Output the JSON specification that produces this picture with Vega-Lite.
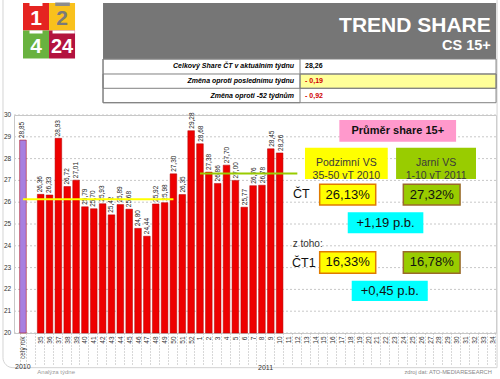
{
"$schema":"https://vega.github.io/schema/vega-lite/v6.json",
"width":482,"height":218,
"autosize":"none",
"padding":{"left":14,"top":115,"right":4,"bottom":46},
"background":"#ffffff",
"datasets":{
"tydny":[
{"tyden":"celý rok","share":28.85,"typ":"celý rok"},
{"tyden":"35","share":26.36,"typ":"týden"},
{"tyden":"36","share":26.33,"typ":"týden"},
{"tyden":"37","share":28.93,"typ":"týden"},
{"tyden":"38","share":26.72,"typ":"týden"},
{"tyden":"39","share":27.01,"typ":"týden"},
{"tyden":"40","share":25.79,"typ":"týden"},
{"tyden":"41","share":25.70,"typ":"týden"},
{"tyden":"42","share":25.93,"typ":"týden"},
{"tyden":"43","share":25.42,"typ":"týden"},
{"tyden":"44","share":25.89,"typ":"týden"},
{"tyden":"45","share":25.68,"typ":"týden"},
{"tyden":"46","share":24.80,"typ":"týden"},
{"tyden":"47","share":24.44,"typ":"týden"},
{"tyden":"48","share":25.92,"typ":"týden"},
{"tyden":"49","share":25.98,"typ":"týden"},
{"tyden":"50","share":27.30,"typ":"týden"},
{"tyden":"51","share":26.35,"typ":"týden"},
{"tyden":"52","share":29.28,"typ":"týden"},
{"tyden":"1","share":28.68,"typ":"týden"},
{"tyden":"2","share":27.38,"typ":"týden"},
{"tyden":"3","share":26.86,"typ":"týden"},
{"tyden":"4","share":27.70,"typ":"týden"},
{"tyden":"5","share":27.00,"typ":"týden"},
{"tyden":"6","share":25.77,"typ":"týden"},
{"tyden":"7","share":26.76,"typ":"týden"},
{"tyden":"8","share":26.78,"typ":"týden"},
{"tyden":"9","share":28.45,"typ":"týden"},
{"tyden":"10","share":28.26,"typ":"týden"}
],
"prumery":[
{"obdobi":"podzim","od":"celý rok","do":"50","prumer":26.13},
{"obdobi":"jaro","od":"1","do":"12","prumer":27.32}
],
"osa":[{"hodnota":20},{"hodnota":21},{"hodnota":22},{"hodnota":23},{"hodnota":24},{"hodnota":25},{"hodnota":26},{"hodnota":27},{"hodnota":28},{"hodnota":29},{"hodnota":30}],
"jeden":[{}]
},
"layer":[
 {"data":{"name":"jeden"},"mark":{"type":"rect","fill":"transparent","stroke":"#d4d4d4","strokeWidth":1,"cornerRadiusBottomLeft":10},
  "encoding":{"x":{"datum":-2.26,"type":"quantitative","scale":{"domain":[-1.017,53.44],"nice":false,"zero":false},"axis":null},"x2":{"datum":53.56},
   "y":{"datum":35.4,"type":"quantitative","scale":{"domain":[20,30],"nice":false,"zero":false},"axis":null},"y2":{"datum":18.41}}},
 {"data":{"name":"osa"},"mark":{"type":"rule","color":"#c8c8c8","strokeDash":[2,2],"strokeWidth":1},
  "encoding":{"y":{"field":"hodnota","type":"quantitative","scale":{"domain":[20,30],"nice":false,"zero":false},"axis":null}}},
 {"data":{"name":"osa"},"mark":{"type":"text","align":"right","baseline":"middle","fontSize":6.5,"color":"#333333"},
  "encoding":{"x":{"datum":-1.33,"type":"quantitative","scale":{"domain":[-1.017,53.44],"nice":false,"zero":false},"axis":null},
   "y":{"field":"hodnota","type":"quantitative","scale":{"domain":[20,30],"nice":false,"zero":false},"axis":null},
   "text":{"field":"hodnota","type":"quantitative","format":"d"}}},
 {"data":{"name":"tydny"},"mark":{"type":"bar","stroke":"#b00000","strokeWidth":0.5},
  "encoding":{
   "x":{"field":"tyden","type":"ordinal","sort":null,
     "scale":{"domain":["celý rok"," ","35","36","37","38","39","40","41","42","43","44","45","46","47","48","49","50","51","52","1","2","3","4","5","6","7","8","9","10","11","12","13","14","15","16","17","18","19","20","21","22","23","24","25","26","27","28","29","30","31","32","33","34"],"paddingInner":0.25,"paddingOuter":0.355,"align":0.9},
     "axis":{"title":null,"labelAngle":270,"labelFontSize":6.5,"labelColor":"#333333","labelOverlap":false,"ticks":true,"tickBand":"extent","tickSize":31,"tickDash":[1,2],"tickColor":"#b0b0b0","labelPadding":-28,"domain":false,"grid":false}},
   "y":{"field":"share","type":"quantitative","scale":{"domain":[20,30],"nice":false,"zero":false},"axis":null},
   "y2":{"datum":20},
   "color":{"field":"typ","type":"nominal","scale":{"domain":["celý rok","týden"],"range":["#a77fe0","#ee0000"]},"legend":null}
  }},
 {"data":{"name":"tydny"},"mark":{"type":"text","angle":270,"align":"left","baseline":"middle","dx":2,"fontSize":6.5,"color":"#222222"},
  "encoding":{
   "x":{"field":"tyden","type":"ordinal","sort":null,
     "scale":{"domain":["celý rok"," ","35","36","37","38","39","40","41","42","43","44","45","46","47","48","49","50","51","52","1","2","3","4","5","6","7","8","9","10","11","12","13","14","15","16","17","18","19","20","21","22","23","24","25","26","27","28","29","30","31","32","33","34"],"paddingInner":0.25,"paddingOuter":0.355,"align":0.9},"axis":null},
   "y":{"field":"share","type":"quantitative","scale":{"domain":[20,30],"nice":false,"zero":false},"axis":null},
   "text":{"field":"share","type":"quantitative","format":".2f"}
  }},
 {"data":{"name":"prumery"},"transform":[{"filter":"datum.obdobi == 'podzim'"}],
  "mark":{"type":"rule","color":"#ffff00","strokeWidth":2},
  "encoding":{
   "x":{"field":"od","type":"ordinal","sort":null,
     "scale":{"domain":["celý rok"," ","35","36","37","38","39","40","41","42","43","44","45","46","47","48","49","50","51","52","1","2","3","4","5","6","7","8","9","10","11","12","13","14","15","16","17","18","19","20","21","22","23","24","25","26","27","28","29","30","31","32","33","34"],"paddingInner":0.25,"paddingOuter":0.355,"align":0.9},"axis":null},
   "x2":{"field":"do"},
   "y":{"field":"prumer","type":"quantitative","scale":{"domain":[20,30],"nice":false,"zero":false},"axis":null}
  }},
 {"data":{"name":"prumery"},"transform":[{"filter":"datum.obdobi == 'jaro'"}],
  "mark":{"type":"rule","color":"#99cc00","strokeWidth":2},
  "encoding":{
   "x":{"field":"od","type":"ordinal","sort":null,
     "scale":{"domain":["celý rok"," ","35","36","37","38","39","40","41","42","43","44","45","46","47","48","49","50","51","52","1","2","3","4","5","6","7","8","9","10","11","12","13","14","15","16","17","18","19","20","21","22","23","24","25","26","27","28","29","30","31","32","33","34"],"paddingInner":0.25,"paddingOuter":0.355,"align":0.9},"axis":null},
   "x2":{"field":"do"},
   "y":{"field":"prumer","type":"quantitative","scale":{"domain":[20,30],"nice":false,"zero":false},"axis":null}
  }},
 {"data":{"name":"jeden"},"mark":{"type":"rect","fill":"#e52421"},"encoding":{"x":{"datum":0.002,"type":"quantitative","scale":{"domain":[-1.017,53.44],"nice":false,"zero":false},"axis":null},"x2":{"datum":2.94},"y":{"datum":35.138,"type":"quantitative","scale":{"domain":[20,30],"nice":false,"zero":false},"axis":null},"y2":{"datum":33.876}}},
 {"data":{"name":"jeden"},"mark":{"type":"rect","fill":"#f9c11c"},"encoding":{"x":{"datum":2.94,"type":"quantitative","scale":{"domain":[-1.017,53.44],"nice":false,"zero":false},"axis":null},"x2":{"datum":5.879},"y":{"datum":35.138,"type":"quantitative","scale":{"domain":[20,30],"nice":false,"zero":false},"axis":null},"y2":{"datum":33.876}}},
 {"data":{"name":"jeden"},"mark":{"type":"rect","fill":"#69b23f"},"encoding":{"x":{"datum":0.002,"type":"quantitative","scale":{"domain":[-1.017,53.44],"nice":false,"zero":false},"axis":null},"x2":{"datum":2.94},"y":{"datum":33.876,"type":"quantitative","scale":{"domain":[20,30],"nice":false,"zero":false},"axis":null},"y2":{"datum":32.592}}},
 {"data":{"name":"jeden"},"mark":{"type":"rect","fill":"#b3133f"},"encoding":{"x":{"datum":2.94,"type":"quantitative","scale":{"domain":[-1.017,53.44],"nice":false,"zero":false},"axis":null},"x2":{"datum":5.879},"y":{"datum":33.876,"type":"quantitative","scale":{"domain":[20,30],"nice":false,"zero":false},"axis":null},"y2":{"datum":32.592}}},
 {"data":{"name":"jeden"},"mark":{"type":"rect","fill":"#ffffff"},"encoding":{"x":{"datum":0.735,"type":"quantitative","scale":{"domain":[-1.017,53.44],"nice":false,"zero":false},"axis":null},"x2":{"datum":2.204},"y":{"datum":35.161,"type":"quantitative","scale":{"domain":[20,30],"nice":false,"zero":false},"axis":null},"y2":{"datum":35.0}}},
 {"data":{"name":"jeden"},"mark":{"type":"rect","fill":"#8c8c8c"},"encoding":{"x":{"datum":3.641,"type":"quantitative","scale":{"domain":[-1.017,53.44],"nice":false,"zero":false},"axis":null},"x2":{"datum":5.29},"y":{"datum":35.161,"type":"quantitative","scale":{"domain":[20,30],"nice":false,"zero":false},"axis":null},"y2":{"datum":35.0}}},
 {"data":{"name":"jeden"},"mark":{"type":"rect","fill":"#ffffff"},"encoding":{"x":{"datum":0.735,"type":"quantitative","scale":{"domain":[-1.017,53.44],"nice":false,"zero":false},"axis":null},"x2":{"datum":2.204},"y":{"datum":33.876,"type":"quantitative","scale":{"domain":[20,30],"nice":false,"zero":false},"axis":null},"y2":{"datum":33.739}}},
 {"data":{"name":"jeden"},"mark":{"type":"rect","fill":"#ffffff"},"encoding":{"x":{"datum":3.335,"type":"quantitative","scale":{"domain":[-1.017,53.44],"nice":false,"zero":false},"axis":null},"x2":{"datum":5.85},"y":{"datum":33.876,"type":"quantitative","scale":{"domain":[20,30],"nice":false,"zero":false},"axis":null},"y2":{"datum":33.739}}},
 {"data":{"values":[{"t":"1"}]},"mark":{"type":"text","align":"center","baseline":"alphabetic","fontSize":21,"fontWeight":"bold","color":"#ffffff"},"encoding":{"x":{"datum":1.471,"type":"quantitative","scale":{"domain":[-1.017,53.44],"nice":false,"zero":false},"axis":null},"y":{"datum":34.128,"type":"quantitative","scale":{"domain":[20,30],"nice":false,"zero":false},"axis":null},"text":{"field":"t"}}},
 {"data":{"values":[{"t":"2"}]},"mark":{"type":"text","align":"center","baseline":"alphabetic","fontSize":21,"fontWeight":"bold","color":"#7a7a7a"},"encoding":{"x":{"datum":4.409,"type":"quantitative","scale":{"domain":[-1.017,53.44],"nice":false,"zero":false},"axis":null},"y":{"datum":34.128,"type":"quantitative","scale":{"domain":[20,30],"nice":false,"zero":false},"axis":null},"text":{"field":"t"}}},
 {"data":{"values":[{"t":"4"}]},"mark":{"type":"text","align":"center","baseline":"alphabetic","fontSize":21,"fontWeight":"bold","color":"#ffffff"},"encoding":{"x":{"datum":1.471,"type":"quantitative","scale":{"domain":[-1.017,53.44],"nice":false,"zero":false},"axis":null},"y":{"datum":32.83,"type":"quantitative","scale":{"domain":[20,30],"nice":false,"zero":false},"axis":null},"text":{"field":"t"}}},
 {"data":{"values":[{"t":"24"}]},"mark":{"type":"text","align":"center","baseline":"alphabetic","fontSize":20,"fontWeight":"bold","color":"#ffffff"},"encoding":{"x":{"datum":4.409,"type":"quantitative","scale":{"domain":[-1.017,53.44],"nice":false,"zero":false},"axis":null},"y":{"datum":32.83,"type":"quantitative","scale":{"domain":[20,30],"nice":false,"zero":false},"axis":null},"text":{"field":"t"}}},
 {"data":{"name":"jeden"},"mark":{"type":"rect","fill":"#767676"},"encoding":{"x":{"datum":9.041,"type":"quantitative","scale":{"domain":[-1.017,53.44],"nice":false,"zero":false},"axis":null},"x2":{"datum":53.448},"y":{"datum":35.138,"type":"quantitative","scale":{"domain":[20,30],"nice":false,"zero":false},"axis":null},"y2":{"datum":32.569}}},
 {"data":{"values":[{"t":"TREND SHARE"}]},"mark":{"type":"text","align":"right","baseline":"alphabetic","fontSize":21,"fontWeight":"bold","color":"#ffffff"},"encoding":{"x":{"datum":52.846,"type":"quantitative","scale":{"domain":[-1.017,53.44],"nice":false,"zero":false},"axis":null},"y":{"datum":33.821,"type":"quantitative","scale":{"domain":[20,30],"nice":false,"zero":false},"axis":null},"text":{"field":"t"}}},
 {"data":{"values":[{"t":"CS 15+"}]},"mark":{"type":"text","align":"right","baseline":"alphabetic","fontSize":14.5,"fontWeight":"bold","color":"#ffffff"},"encoding":{"x":{"datum":52.846,"type":"quantitative","scale":{"domain":[-1.017,53.44],"nice":false,"zero":false},"axis":null},"y":{"datum":32.982,"type":"quantitative","scale":{"domain":[20,30],"nice":false,"zero":false},"axis":null},"text":{"field":"t"}}},
 {"data":{"name":"jeden"},"mark":{"type":"rect","fill":"#ffffff","stroke":"#808080","strokeWidth":1},"encoding":{"x":{"datum":9.041,"type":"quantitative","scale":{"domain":[-1.017,53.44],"nice":false,"zero":false},"axis":null},"x2":{"datum":53.448},"y":{"datum":32.569,"type":"quantitative","scale":{"domain":[20,30],"nice":false,"zero":false},"axis":null},"y2":{"datum":30.564}}},
 {"data":{"name":"jeden"},"mark":{"type":"rect","fill":"#ffff99","stroke":"#808080","strokeWidth":1},"encoding":{"x":{"datum":31.299,"type":"quantitative","scale":{"domain":[-1.017,53.44],"nice":false,"zero":false},"axis":null},"x2":{"datum":53.448},"y":{"datum":31.881,"type":"quantitative","scale":{"domain":[20,30],"nice":false,"zero":false},"axis":null},"y2":{"datum":31.225}}},
 {"data":{"name":"jeden"},"mark":{"type":"rect","fill":"transparent","stroke":"#808080","strokeWidth":1},"encoding":{"x":{"datum":9.041,"type":"quantitative","scale":{"domain":[-1.017,53.44],"nice":false,"zero":false},"axis":null},"x2":{"datum":53.448},"y":{"datum":31.881,"type":"quantitative","scale":{"domain":[20,30],"nice":false,"zero":false},"axis":null},"y2":{"datum":31.225}}},
 {"data":{"name":"jeden"},"mark":{"type":"rect","fill":"transparent","stroke":"#808080","strokeWidth":1},"encoding":{"x":{"datum":9.041,"type":"quantitative","scale":{"domain":[-1.017,53.44],"nice":false,"zero":false},"axis":null},"x2":{"datum":31.299},"y":{"datum":32.569,"type":"quantitative","scale":{"domain":[20,30],"nice":false,"zero":false},"axis":null},"y2":{"datum":30.564}}},
 {"data":{"values":[{"t":"Celkový Share ČT v aktuálním týdnu"}]},"mark":{"type":"text","align":"right","baseline":"middle","fontSize":7,"fontWeight":"bold","fontStyle":"italic","color":"#000000"},"encoding":{"x":{"datum":30.622,"type":"quantitative","scale":{"domain":[-1.017,53.44],"nice":false,"zero":false},"axis":null},"y":{"datum":32.225,"type":"quantitative","scale":{"domain":[20,30],"nice":false,"zero":false},"axis":null},"text":{"field":"t"}}},
 {"data":{"values":[{"t":"Změna oproti poslednímu týdnu"}]},"mark":{"type":"text","align":"right","baseline":"middle","fontSize":7,"fontWeight":"bold","fontStyle":"italic","color":"#000000"},"encoding":{"x":{"datum":30.622,"type":"quantitative","scale":{"domain":[-1.017,53.44],"nice":false,"zero":false},"axis":null},"y":{"datum":31.553,"type":"quantitative","scale":{"domain":[20,30],"nice":false,"zero":false},"axis":null},"text":{"field":"t"}}},
 {"data":{"values":[{"t":"Změna oproti -52 týdnům"}]},"mark":{"type":"text","align":"right","baseline":"middle","fontSize":7,"fontWeight":"bold","fontStyle":"italic","color":"#000000"},"encoding":{"x":{"datum":30.622,"type":"quantitative","scale":{"domain":[-1.017,53.44],"nice":false,"zero":false},"axis":null},"y":{"datum":30.894,"type":"quantitative","scale":{"domain":[20,30],"nice":false,"zero":false},"axis":null},"text":{"field":"t"}}},
 {"data":{"values":[{"t":"28,26"}]},"mark":{"type":"text","align":"left","baseline":"middle","fontSize":7,"fontWeight":"bold","color":"#000000"},"encoding":{"x":{"datum":31.864,"type":"quantitative","scale":{"domain":[-1.017,53.44],"nice":false,"zero":false},"axis":null},"y":{"datum":32.225,"type":"quantitative","scale":{"domain":[20,30],"nice":false,"zero":false},"axis":null},"text":{"field":"t"}}},
 {"data":{"values":[{"t":"- 0,19"}]},"mark":{"type":"text","align":"left","baseline":"middle","fontSize":7,"fontWeight":"bold","color":"#d00000"},"encoding":{"x":{"datum":31.864,"type":"quantitative","scale":{"domain":[-1.017,53.44],"nice":false,"zero":false},"axis":null},"y":{"datum":31.553,"type":"quantitative","scale":{"domain":[20,30],"nice":false,"zero":false},"axis":null},"text":{"field":"t"}}},
 {"data":{"values":[{"t":"- 0,92"}]},"mark":{"type":"text","align":"left","baseline":"middle","fontSize":7,"fontWeight":"bold","color":"#d00000"},"encoding":{"x":{"datum":31.864,"type":"quantitative","scale":{"domain":[-1.017,53.44],"nice":false,"zero":false},"axis":null},"y":{"datum":30.894,"type":"quantitative","scale":{"domain":[20,30],"nice":false,"zero":false},"axis":null},"text":{"field":"t"}}},
 {"data":{"name":"jeden"},"mark":{"type":"rect","fill":"#ff99cc"},"encoding":{"x":{"datum":35.74,"type":"quantitative","scale":{"domain":[-1.017,53.44],"nice":false,"zero":false},"axis":null},"x2":{"datum":48.93},"y":{"datum":29.771,"type":"quantitative","scale":{"domain":[20,30],"nice":false,"zero":false},"axis":null},"y2":{"datum":28.775}}},
 {"data":{"values":[{"t":"Průměr share 15+"}]},"mark":{"type":"text","align":"center","baseline":"middle","fontSize":11,"fontWeight":"bold","color":"#111111"},"encoding":{"x":{"datum":42.34,"type":"quantitative","scale":{"domain":[-1.017,53.44],"nice":false,"zero":false},"axis":null},"y":{"datum":29.273,"type":"quantitative","scale":{"domain":[20,30],"nice":false,"zero":false},"axis":null},"text":{"field":"t"}}},
 {"data":{"name":"jeden"},"mark":{"type":"rect","fill":"#ffff00"},"encoding":{"x":{"datum":31.86,"type":"quantitative","scale":{"domain":[-1.017,53.44],"nice":false,"zero":false},"axis":null},"x2":{"datum":41.21},"y":{"datum":28.5,"type":"quantitative","scale":{"domain":[20,30],"nice":false,"zero":false},"axis":null},"y2":{"datum":27.064}}},
 {"data":{"values":[{"t":["Podzimní VS","35-50 vT 2010"]}]},"mark":{"type":"text","align":"center","baseline":"middle","fontSize":10.5,"lineHeight":13,"color":"#3a3a3a"},"encoding":{"x":{"datum":36.53,"type":"quantitative","scale":{"domain":[-1.017,53.44],"nice":false,"zero":false},"axis":null},"y":{"datum":27.782,"type":"quantitative","scale":{"domain":[20,30],"nice":false,"zero":false},"axis":null},"text":{"field":"t"}}},
 {"data":{"name":"jeden"},"mark":{"type":"rect","fill":"#99cc00"},"encoding":{"x":{"datum":42.15,"type":"quantitative","scale":{"domain":[-1.017,53.44],"nice":false,"zero":false},"axis":null},"x2":{"datum":51.18},"y":{"datum":28.5,"type":"quantitative","scale":{"domain":[20,30],"nice":false,"zero":false},"axis":null},"y2":{"datum":27.064}}},
 {"data":{"values":[{"t":["Jarní VS","1-10 vT 2011"]}]},"mark":{"type":"text","align":"center","baseline":"middle","fontSize":10.5,"lineHeight":13,"color":"#3a3a3a"},"encoding":{"x":{"datum":46.67,"type":"quantitative","scale":{"domain":[-1.017,53.44],"nice":false,"zero":false},"axis":null},"y":{"datum":27.782,"type":"quantitative","scale":{"domain":[20,30],"nice":false,"zero":false},"axis":null},"text":{"field":"t"}}},
 {"data":{"values":[{"t":"ČT"}]},"mark":{"type":"text","align":"left","baseline":"alphabetic","fontSize":12.5,"color":"#111111"},"encoding":{"x":{"datum":30.51,"type":"quantitative","scale":{"domain":[-1.017,53.44],"nice":false,"zero":false},"axis":null},"y":{"datum":26.206,"type":"quantitative","scale":{"domain":[20,30],"nice":false,"zero":false},"axis":null},"text":{"field":"t"}}},
 {"data":{"name":"jeden"},"mark":{"type":"rect","fill":"#ffff00","stroke":"#e07b00","strokeWidth":1.5},"encoding":{"x":{"datum":33.52,"type":"quantitative","scale":{"domain":[-1.017,53.44],"nice":false,"zero":false},"axis":null},"x2":{"datum":39.85},"y":{"datum":26.821,"type":"quantitative","scale":{"domain":[20,30],"nice":false,"zero":false},"axis":null},"y2":{"datum":25.872}}},
 {"data":{"name":"jeden"},"mark":{"type":"rect","fill":"#99cc00","stroke":"#9a6a2a","strokeWidth":1.5},"encoding":{"x":{"datum":42.97,"type":"quantitative","scale":{"domain":[-1.017,53.44],"nice":false,"zero":false},"axis":null},"x2":{"datum":49.38},"y":{"datum":26.821,"type":"quantitative","scale":{"domain":[20,30],"nice":false,"zero":false},"axis":null},"y2":{"datum":25.872}}},
 {"data":{"values":[{"t":"26,13%"}]},"mark":{"type":"text","align":"center","baseline":"middle","fontSize":13,"color":"#111111"},"encoding":{"x":{"datum":36.68,"type":"quantitative","scale":{"domain":[-1.017,53.44],"nice":false,"zero":false},"axis":null},"y":{"datum":26.35,"type":"quantitative","scale":{"domain":[20,30],"nice":false,"zero":false},"axis":null},"text":{"field":"t"}}},
 {"data":{"values":[{"t":"27,32%"}]},"mark":{"type":"text","align":"center","baseline":"middle","fontSize":13,"color":"#111111"},"encoding":{"x":{"datum":46.18,"type":"quantitative","scale":{"domain":[-1.017,53.44],"nice":false,"zero":false},"axis":null},"y":{"datum":26.35,"type":"quantitative","scale":{"domain":[20,30],"nice":false,"zero":false},"axis":null},"text":{"field":"t"}}},
 {"data":{"name":"jeden"},"mark":{"type":"rect","fill":"#00ffff"},"encoding":{"x":{"datum":36.69,"type":"quantitative","scale":{"domain":[-1.017,53.44],"nice":false,"zero":false},"axis":null},"x2":{"datum":45.23},"y":{"datum":25.537,"type":"quantitative","scale":{"domain":[20,30],"nice":false,"zero":false},"axis":null},"y2":{"datum":24.573}}},
 {"data":{"values":[{"t":"+1,19 p.b."}]},"mark":{"type":"text","align":"center","baseline":"middle","fontSize":13,"color":"#111111"},"encoding":{"x":{"datum":40.96,"type":"quantitative","scale":{"domain":[-1.017,53.44],"nice":false,"zero":false},"axis":null},"y":{"datum":25.055,"type":"quantitative","scale":{"domain":[20,30],"nice":false,"zero":false},"axis":null},"text":{"field":"t"}}},
 {"data":{"values":[{"t":"z toho:"}]},"mark":{"type":"text","align":"left","baseline":"alphabetic","fontSize":10,"color":"#333333"},"encoding":{"x":{"datum":30.47,"type":"quantitative","scale":{"domain":[-1.017,53.44],"nice":false,"zero":false},"axis":null},"y":{"datum":23.931,"type":"quantitative","scale":{"domain":[20,30],"nice":false,"zero":false},"axis":null},"text":{"field":"t"}}},
 {"data":{"values":[{"t":"ČT1"}]},"mark":{"type":"text","align":"left","baseline":"alphabetic","fontSize":12.5,"color":"#111111"},"encoding":{"x":{"datum":30.4,"type":"quantitative","scale":{"domain":[-1.017,53.44],"nice":false,"zero":false},"axis":null},"y":{"datum":23.041,"type":"quantitative","scale":{"domain":[20,30],"nice":false,"zero":false},"axis":null},"text":{"field":"t"}}},
 {"data":{"name":"jeden"},"mark":{"type":"rect","fill":"#ffff00","stroke":"#e07b00","strokeWidth":1.5},"encoding":{"x":{"datum":33.52,"type":"quantitative","scale":{"domain":[-1.017,53.44],"nice":false,"zero":false},"axis":null},"x2":{"datum":39.85},"y":{"datum":23.729,"type":"quantitative","scale":{"domain":[20,30],"nice":false,"zero":false},"axis":null},"y2":{"datum":22.739}}},
 {"data":{"name":"jeden"},"mark":{"type":"rect","fill":"#99cc00","stroke":"#9a6a2a","strokeWidth":1.5},"encoding":{"x":{"datum":42.97,"type":"quantitative","scale":{"domain":[-1.017,53.44],"nice":false,"zero":false},"axis":null},"x2":{"datum":49.38},"y":{"datum":23.729,"type":"quantitative","scale":{"domain":[20,30],"nice":false,"zero":false},"axis":null},"y2":{"datum":22.739}}},
 {"data":{"values":[{"t":"16,33%"}]},"mark":{"type":"text","align":"center","baseline":"middle","fontSize":13,"color":"#111111"},"encoding":{"x":{"datum":36.68,"type":"quantitative","scale":{"domain":[-1.017,53.44],"nice":false,"zero":false},"axis":null},"y":{"datum":23.234,"type":"quantitative","scale":{"domain":[20,30],"nice":false,"zero":false},"axis":null},"text":{"field":"t"}}},
 {"data":{"values":[{"t":"16,78%"}]},"mark":{"type":"text","align":"center","baseline":"middle","fontSize":13,"color":"#111111"},"encoding":{"x":{"datum":46.18,"type":"quantitative","scale":{"domain":[-1.017,53.44],"nice":false,"zero":false},"axis":null},"y":{"datum":23.234,"type":"quantitative","scale":{"domain":[20,30],"nice":false,"zero":false},"axis":null},"text":{"field":"t"}}},
 {"data":{"name":"jeden"},"mark":{"type":"rect","fill":"#00ffff"},"encoding":{"x":{"datum":37.14,"type":"quantitative","scale":{"domain":[-1.017,53.44],"nice":false,"zero":false},"axis":null},"x2":{"datum":45.73},"y":{"datum":22.399,"type":"quantitative","scale":{"domain":[20,30],"nice":false,"zero":false},"axis":null},"y2":{"datum":21.468}}},
 {"data":{"values":[{"t":"+0,45 p.b."}]},"mark":{"type":"text","align":"center","baseline":"middle","fontSize":13,"color":"#111111"},"encoding":{"x":{"datum":41.44,"type":"quantitative","scale":{"domain":[-1.017,53.44],"nice":false,"zero":false},"axis":null},"y":{"datum":21.93,"type":"quantitative","scale":{"domain":[20,30],"nice":false,"zero":false},"axis":null},"text":{"field":"t"}}},
 {"data":{"values":[{"t":"2010"}]},"mark":{"type":"text","align":"left","baseline":"alphabetic","fontSize":7,"color":"#333333"},"encoding":{"x":{"datum":-0.902,"type":"quantitative","scale":{"domain":[-1.017,53.44],"nice":false,"zero":false},"axis":null},"y":{"datum":18.335,"type":"quantitative","scale":{"domain":[20,30],"nice":false,"zero":false},"axis":null},"text":{"field":"t"}}},
 {"data":{"values":[{"t":"2011"}]},"mark":{"type":"text","align":"left","baseline":"alphabetic","fontSize":7,"color":"#333333"},"encoding":{"x":{"datum":26.55,"type":"quantitative","scale":{"domain":[-1.017,53.44],"nice":false,"zero":false},"axis":null},"y":{"datum":18.3,"type":"quantitative","scale":{"domain":[20,30],"nice":false,"zero":false},"axis":null},"text":{"field":"t"}}},
 {"data":{"values":[{"t":"Analýza týdne"}]},"mark":{"type":"text","align":"left","baseline":"alphabetic","fontSize":6,"color":"#999999"},"encoding":{"x":{"datum":1.616,"type":"quantitative","scale":{"domain":[-1.017,53.44],"nice":false,"zero":false},"axis":null},"y":{"datum":18.12,"type":"quantitative","scale":{"domain":[20,30],"nice":false,"zero":false},"axis":null},"text":{"field":"t"}}},
 {"data":{"values":[{"t":"zdroj dat: ATO-MEDIARESEARCH"}]},"mark":{"type":"text","align":"right","baseline":"alphabetic","fontSize":5.7,"color":"#888888"},"encoding":{"x":{"datum":52.96,"type":"quantitative","scale":{"domain":[-1.017,53.44],"nice":false,"zero":false},"axis":null},"y":{"datum":18.106,"type":"quantitative","scale":{"domain":[20,30],"nice":false,"zero":false},"axis":null},"text":{"field":"t"}}}
],
"resolve":{"scale":{"x":"independent","y":"independent","color":"independent"},"axis":{"x":"independent","y":"independent"}},
"config":{
 "font":"Liberation Sans",
 "view":{"stroke":"#c8c8c8"},
 "locale":{"number":{"decimal":",","thousands":" ","grouping":[3],"currency":["","\u00a0Kč"]}}
}
}
